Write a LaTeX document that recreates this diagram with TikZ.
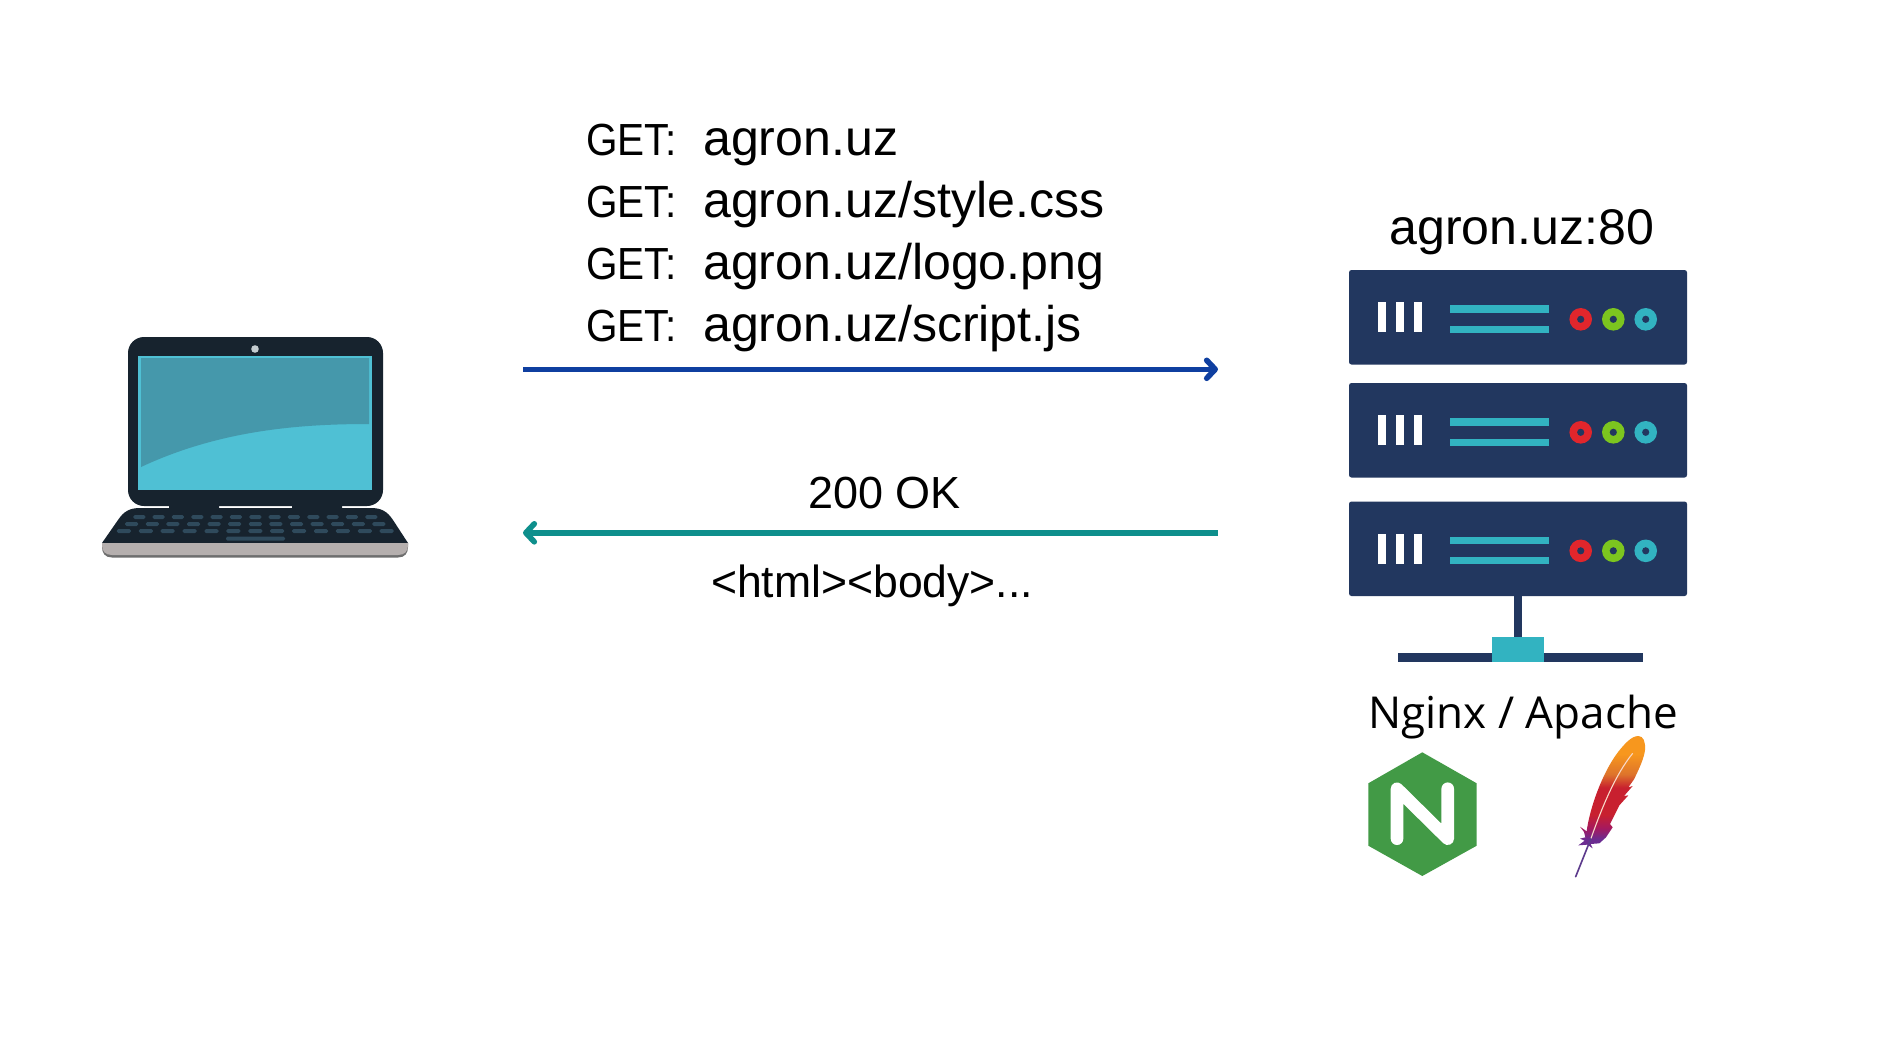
\documentclass[tikz,border=0pt]{standalone}
\usepackage{fontspec}
\usepackage{graphicx}
\setmainfont{Liberation Sans}
\newfontfamily\opensans{Open Sans}
\usetikzlibrary{arrows.meta}
\definecolor{navy}{HTML}{22375F}
\definecolor{tealbar}{HTML}{32B3C1}
\definecolor{ledred}{HTML}{E1262C}
\definecolor{ledgreen}{HTML}{7CC51F}
\definecolor{lapdark}{HTML}{17232E}
\definecolor{lapkey}{HTML}{2F4A5C}
\definecolor{lapsilver}{HTML}{B5AFAE}
\definecolor{lapshadow}{HTML}{6E6E6E}
\definecolor{scrdark}{HTML}{4598AB}
\definecolor{scrlight}{HTML}{4FC0D4}
\definecolor{camgrey}{HTML}{C4CCD0}
\definecolor{arrowblue}{HTML}{0F3FA0}
\definecolor{arrowteal}{HTML}{0E8F8C}
\definecolor{nginxgreen}{HTML}{429A46}
\definecolor{fpurple}{HTML}{6B2C91}
\definecolor{fmagenta}{HTML}{A5195F}
\definecolor{fred}{HTML}{C8202F}
\definecolor{forange}{HTML}{DE742B}
\definecolor{fyellow}{HTML}{F7971E}
\definecolor{quillpurple}{HTML}{5C3A8C}
\definecolor{quillpale}{HTML}{F8D8C8}
\pgfdeclareverticalshading{feathershade}{100bp}{
  color(0bp)=(fpurple);
  color(29bp)=(fpurple);
  color(34bp)=(fmagenta);
  color(40bp)=(fred);
  color(52bp)=(fred);
  color(58bp)=(forange);
  color(67bp)=(fyellow);
  color(100bp)=(fyellow)}
\tikzset{
  x=1pt,y=-1pt,
  lbl/.style={inner sep=0pt,anchor=base,text=black},
  lblw/.style={inner sep=0pt,anchor=base west,text=black},
  barb/.style={line width=5.6pt,-{Straight Barb[length=8.5pt,width=18pt,round]}},
  keycap/.style={fill=lapkey,rounded corners=1.5pt},
}
\newcommand{\bigtxt}{\fontsize{50.1}{60}\selectfont}
\newcommand{\midtxt}{\fontsize{45}{54}\selectfont}
\newcommand{\gettxt}{\scalebox{0.9}[1]{\midtxt GET:}}
\begin{document}
\begin{tikzpicture}
\useasboundingbox (0,0) rectangle (1884,1037);
\fill[white] (0,0) rectangle (1884,1037);

% laptop
\fill[lapdark,rounded corners=16pt] (128,337) rectangle (383,506);
\fill[lapdark] (169,505) rectangle (219,510) (292,505) rectangle (342,510);
\fill[lapdark] (102,543) -- (118,520) .. controls (124,511) and (130,508) .. (140,508) -- (371,508) .. controls (381,508) and (387,511) .. (393,520) -- (408,543) -- cycle;
\fill[lapshadow] (102,543) -- (408,543) -- (408,547) .. controls (408,553) and (405,557.5) .. (398,557.5) -- (112,557.5) .. controls (105,557.5) and (102,553) .. (102,547) -- cycle;
\fill[lapsilver] (102,543) -- (408,543) -- (408,545) .. controls (408,551) and (405,555) .. (398,555) -- (112,555) .. controls (105,555) and (102,551) .. (102,545) -- cycle;
\fill[scrlight] (138,356) rectangle (372,490);
\fill[scrdark] (141,358) -- (369,358) -- (369,424) .. controls (300,424) and (220,430) .. (141,467) -- cycle;
\fill[camgrey] (255,349) circle (3.8);
\foreach \i in {-6,...,6} {
  \fill[keycap] ({255.3+\i*19.33-6},515) rectangle ++(12,4);
  \fill[keycap] ({255.3+\i*20.6-6.5},522) rectangle ++(13,4);
  \fill[keycap] ({255.3+\i*21.9-7},529) rectangle ++(14,4);
}
\fill[keycap] (226,536.5) rectangle (285,540.5);

% server racks
\foreach \t in {270,383,501.5} {
  \fill[navy,rounded corners=2.5pt] (1349,\t) rectangle (1687,\t+94.5);
  \fill[white] (1378.3,\t+32) rectangle ++(7.7,30);
  \fill[white] (1396,\t+32) rectangle ++(7.7,30);
  \fill[white] (1414,\t+32) rectangle ++(7.7,30);
  \fill[tealbar] (1449.7,\t+35.3) rectangle (1549.3,\t+42.6);
  \fill[tealbar] (1449.7,\t+55.7) rectangle (1549.3,\t+62.7);
  \fill[ledred] (1580.7,\t+49.3) circle (11.3);
  \fill[ledgreen] (1613.3,\t+49.3) circle (11.3);
  \fill[tealbar] (1645.7,\t+49.3) circle (11.3);
  \fill[navy] (1580.7,\t+49.3) circle (3.6);
  \fill[navy] (1613.3,\t+49.3) circle (3.6);
  \fill[navy] (1645.7,\t+49.3) circle (3.6);
}
\fill[navy] (1514.3,596) rectangle (1521.7,637);
\fill[navy] (1397.7,653) rectangle (1642.7,662);
\fill[tealbar] (1491.7,637) rectangle (1544,662);

% nginx logo
\fill[nginxgreen] (1422.3,752.3) -- (1476.7,783.3) -- (1476.7,845.7) -- (1422.3,876) -- (1368.3,845.7) -- (1368.3,783.3) -- cycle;
\draw[white,line width=12.6pt,line cap=round,line join=round] (1397,838.7) -- (1397,788.7) -- (1447.7,838.7) -- (1447.7,788.7);

% apache feather
\begin{scope}[shift={(1560,730)},x=0.3333pt,y=-0.3333pt]
\shade[shading=feathershade]
  (235,18) .. controls (250,18) and (257,35) .. (255,60)
  .. controls (252,85) and (238,115) .. (222,148)
  -- (205,172) -- (218,168) -- (192,198) -- (205,196) -- (178,226) -- (165,252) -- (150,282) -- (158,292) -- (138,322) -- (118,340) -- (92,342)
  -- (98,355) -- (82,344) -- (55,346) -- (74,332) -- (60,326) -- (76,322) -- (72,306) -- (60,290) -- (80,304)
  .. controls (88,240) and (125,130) .. (175,65)
  .. controls (195,40) and (215,18) .. (235,18) -- cycle;
\draw[quillpurple,line width=1.6pt,line cap=round] (47,440) -- (93,325);
\draw[quillpale,line width=1.1pt] (93,325) .. controls (125,235) and (165,135) .. (218,70);
\end{scope}

% texts
\node[lblw] (g1) at (586,155) {\gettxt};
\node[lblw] (g2) at (586,217) {\gettxt};
\node[lblw] (g3) at (586,279) {\gettxt};
\node[lblw] (g4) at (586,341) {\gettxt};
\node[lblw] (u1) at (703,155) {\bigtxt agron.uz};
\node[lblw] (u2) at (703,217) {\bigtxt agron.uz/style.css};
\node[lblw] (u3) at (703,279) {\bigtxt agron.uz/logo.png};
\node[lblw] (u4) at (703,341) {\bigtxt agron.uz/script.js};
\node[lbl] (ok) at (884.5,508.5) {\midtxt 200 OK};
\node[lbl] (html) at (872,597) {\scalebox{0.99}[1]{\midtxt <html><body>...}};
\node[lbl] (host) at (1521.7,244) {\bigtxt agron.uz:80};
\node[lbl] (soft) at (1523,728) {\opensans\fontsize{44}{52}\selectfont Nginx / Apache};

% connectors
\coordinate (reqa) at (523,369.3);
\coordinate (reqb) at (1218,369.3);
\coordinate (resa) at (1218,532.8);
\coordinate (resb) at (523,532.8);
\draw[barb,arrowblue] (reqa) -- (reqb);
\draw[barb,arrowteal] (resa) -- (resb);
\end{tikzpicture}
\end{document}
